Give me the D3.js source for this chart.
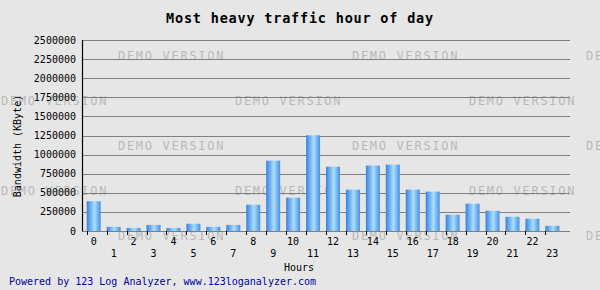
<!DOCTYPE html>
<html>
<head>
<meta charset="UTF-8">
<title>Most heavy traffic hour of day</title>
<style>
  body { margin: 0; background: #e6e6e6; }
  svg text { font-family: "DejaVu Sans Mono", "Liberation Mono", monospace; }
  .grid line { stroke: #808080; stroke-width: 1; }
  .wm { fill: #b9b9b9; font-size: 12px; letter-spacing: 1.7px; }
  .tick-label { font-size: 10px; fill: #000; }
</style>
</head>
<body>
<svg id="chart" width="600" height="290"></svg>
<script src="https://d3js.org/d3.v7.min.js"></script>
<script>
// hour of day
const hours = d3.range(24).map(String);
// bandwidth per hour (KByte)
const bandwidth = [390000, 55000, 40000, 80000, 40000, 95000, 55000, 80000,
  344000, 921000, 436000, 1253000, 842000, 541000, 856000, 869000,
  541000, 515000, 213000, 357000, 265000, 186000, 160000, 68000];
const yTicks = [0, 250000, 500000, 750000, 1000000, 1250000, 1500000, 1750000, 2000000, 2250000, 2500000];

const svg = d3.select("#chart");
svg.append("rect").attr("width", 600).attr("height", 290).attr("fill", "#e6e6e6");

const plotLeft = 82.5, plotRight = 570, plotTop = 40, plotBottom = 231;
const barW = 14;

const x = d3.scaleBand().domain(hours).range([86.7, 565.3]);
const y = d3.scaleLinear().domain([0, 2500000]).range([plotBottom, plotTop]);

const defs = svg.append("defs");
const grad = defs.append("linearGradient").attr("id", "barGrad")
  .attr("x1", "0%").attr("x2", "100%").attr("y1", "0%").attr("y2", "0%");
grad.append("stop").attr("offset", "0%").attr("stop-color", "#3a80da");
grad.append("stop").attr("offset", "55%").attr("stop-color", "#a8deff");
grad.append("stop").attr("offset", "100%").attr("stop-color", "#4a8fe2");

// watermark
const wm = svg.append("g");
[55, 100, 145, 190, 235].forEach((cy, r) => {
  const xs = r % 2 === 0 ? [118, 352, 586] : [1, 235, 469];
  xs.forEach(wx => {
    wm.append("text").attr("class", "wm").attr("x", wx).attr("y", cy + 4.5).text("DEMO VERSION");
  });
});

// gridlines
svg.append("g").attr("class", "grid")
  .selectAll("line").data(yTicks).join("line")
  .attr("x1", plotLeft).attr("x2", plotRight)
  .attr("y1", d => Math.round(y(d)) + 0.5).attr("y2", d => Math.round(y(d)) + 0.5);

// bars
svg.append("g").selectAll("rect").data(bandwidth).join("rect")
  .attr("x", (d, i) => x(hours[i]))
  .attr("y", d => y(d))
  .attr("width", barW)
  .attr("height", d => plotBottom - y(d))
  .attr("fill", "url(#barGrad)");

// y axis
svg.append("line").attr("x1", plotLeft).attr("x2", plotLeft).attr("y1", plotTop).attr("y2", plotBottom + 0.5)
  .attr("stroke", "#000").attr("stroke-width", 1.2);
svg.append("g").selectAll("text").data(yTicks).join("text")
  .attr("class", "tick-label")
  .attr("x", 76).attr("y", d => y(d) + 3.5)
  .attr("text-anchor", "end")
  .text(d => d);

// x ticks and labels
const xt = svg.append("g");
xt.selectAll("line").data(hours).join("line")
  .attr("x1", d => Math.round(x(d)) + 0.5).attr("x2", d => Math.round(x(d)) + 0.5)
  .attr("y1", plotBottom).attr("y2", plotBottom + 4)
  .attr("stroke", "#000");
xt.selectAll("text").data(hours).join("text")
  .attr("class", "tick-label")
  .attr("x", d => x(d) + barW / 2)
  .attr("y", (d, i) => i % 2 === 0 ? 245 : 257)
  .attr("text-anchor", "middle")
  .text(d => d);

// titles
svg.append("text").attr("x", 300).attr("y", 23).attr("text-anchor", "middle")
  .style("font-size", "13.5px").style("font-weight", "bold").style("letter-spacing", "0.8px")
  .text("Most heavy traffic hour of day");
svg.append("text").attr("x", 299).attr("y", 271).attr("text-anchor", "middle")
  .style("font-size", "10px").text("Hours");
svg.append("text").attr("transform", "translate(21,146) rotate(-90)").attr("text-anchor", "middle")
  .style("font-size", "10px").text("Bandwidth (KByte)");
svg.append("text").attr("x", 9).attr("y", 285)
  .style("font-size", "10px").attr("fill", "#0000a0")
  .text("Powered by 123 Log Analyzer, www.123loganalyzer.com");
</script>
</body>
</html>
